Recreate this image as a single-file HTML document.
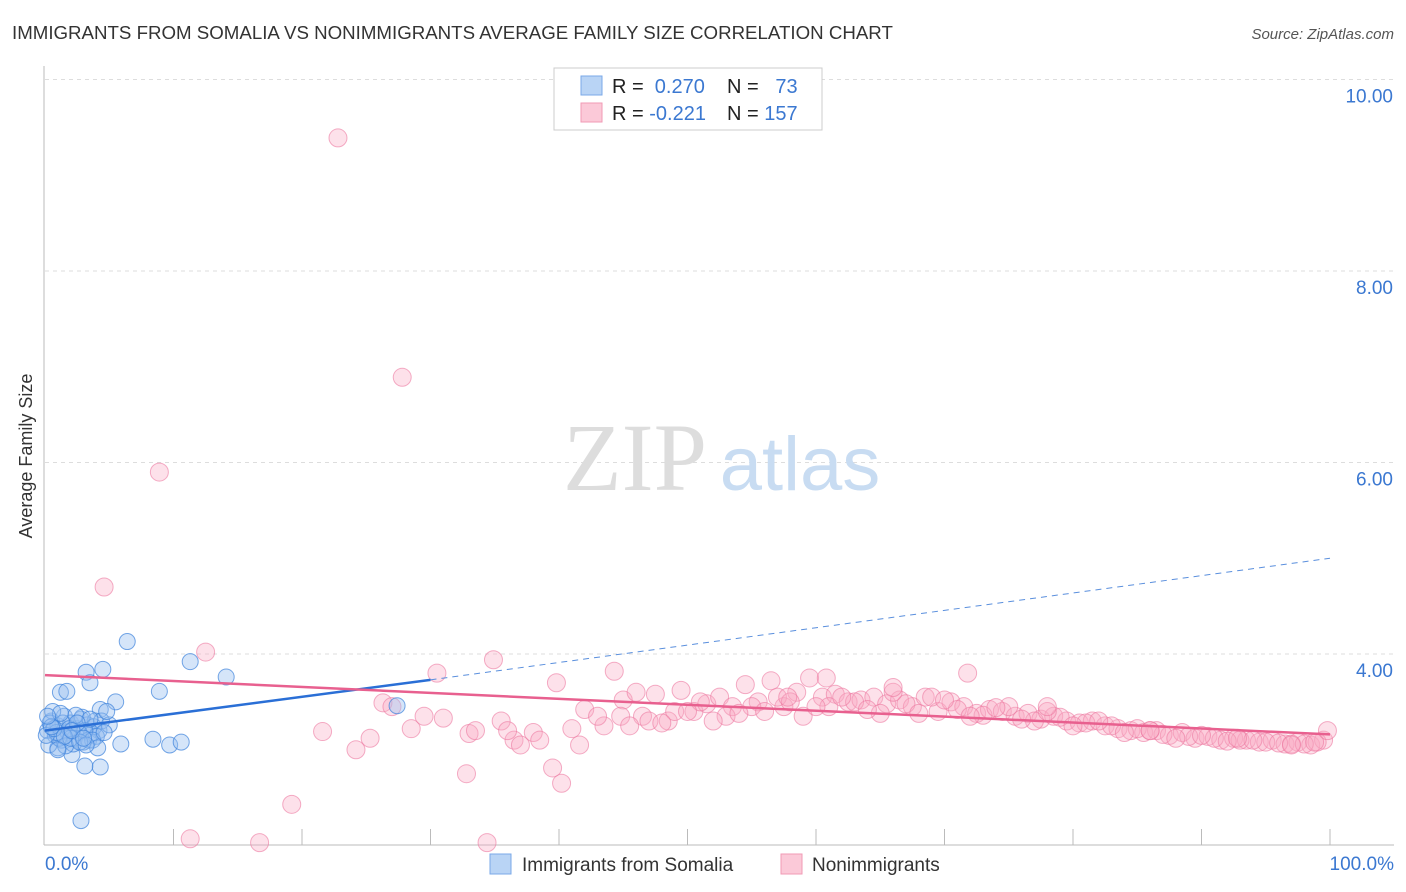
<!DOCTYPE html>
<html><head><meta charset="utf-8"><style>
body{margin:0;background:#fff;font-family:"Liberation Sans",sans-serif}
svg{display:block}
</style></head><body>
<svg id="c" width="1406" height="892" xmlns="http://www.w3.org/2000/svg">
<text x="12" y="39" font-size="18.7" fill="#333">IMMIGRANTS FROM SOMALIA VS NONIMMIGRANTS AVERAGE FAMILY SIZE CORRELATION CHART</text>
<text x="1394" y="39" font-size="15" fill="#555" font-style="italic" text-anchor="end">Source: ZipAtlas.com</text>
<text x="32" y="456" font-size="18" fill="#333" text-anchor="middle" transform="rotate(-90 32 456)">Average Family Size</text>
<g id="grid"></g>
<g id="wm">
<text x="635" y="490" font-size="96" fill="#ddd" font-family="Liberation Serif" text-anchor="middle">ZIP</text>
<text x="800" y="490" font-size="76" fill="#c8dcf2" text-anchor="middle">atlas</text></g>
<g id="axes"></g>
<g id="pts"></g>
<g id="lines"></g>
<g>
<rect x="554" y="68" width="268" height="62" fill="#fff" stroke="#ccc"/>
<rect x="581" y="76" width="21" height="19" fill="#b9d4f5" stroke="#7aa8e8"/>
<rect x="581" y="103" width="21" height="19" fill="#fbc9d8" stroke="#f09ab5"/>
<text x="612" y="93" font-size="20" fill="#222">R = <tspan fill="#3b78d1">&#160;0.270</tspan></text>
<text x="727" y="93" font-size="20" fill="#222">N = <tspan fill="#3b78d1">&#160;&#160;73</tspan></text>
<text x="612" y="120" font-size="20" fill="#222">R = <tspan fill="#3b78d1">-0.221</tspan></text>
<text x="727" y="120" font-size="20" fill="#222">N = <tspan fill="#3b78d1">157</tspan></text>
</g>
<g>
<rect x="490" y="854" width="21" height="20" fill="#b9d4f5" stroke="#7aa8e8"/>
<text x="522" y="871" font-size="19" fill="#333">Immigrants from Somalia</text>
<rect x="781" y="854" width="21" height="20" fill="#fbc9d8" stroke="#f09ab5"/>
<text x="812" y="871" font-size="19" fill="#333">Nonimmigrants</text>
</g>
</svg>
<script>
const yTicks=[4,6,8,10];
const yTickLabels=["4.00","6.00","8.00","10.00"];
const xTickLabels=["0.0%","100.0%"];
const blueX=[6.4,11.3,4.5,3.2,3.5,14.1,8.9,1.2,1.7,5.5,27.4,4.3,8.4,9.7,10.6,5.9,4.3,3.1,2.1,2.8,1.0,0.2,0.5,0.8,1.0,1.3,1.5,1.8,2.0,2.3,2.5,2.8,3.0,3.3,3.6,3.9,4.2,0.3,0.6,1.1,1.4,1.9,2.2,2.6,2.9,3.4,3.8,4.0,0.4,0.9,1.6,2.4,3.1,3.7,4.4,5.0,0.1,0.7,1.2,2.0,2.7,3.5,4.1,0.5,1.5,2.5,3.2,4.6,0.2,1.0,2.1,3.0,4.8];
const blueY=[4.13,3.92,3.84,3.81,3.70,3.76,3.61,3.60,3.61,3.50,3.46,3.42,3.11,3.05,3.08,3.06,2.82,2.83,2.95,2.26,3.02,3.20,3.30,3.15,3.25,3.10,3.35,3.18,3.28,3.12,3.22,3.32,3.08,3.26,3.16,3.30,3.20,3.05,3.40,3.12,3.28,3.22,3.06,3.18,3.34,3.10,3.24,3.14,3.28,3.18,3.04,3.36,3.20,3.10,3.30,3.26,3.15,3.22,3.38,3.12,3.08,3.32,3.02,3.24,3.14,3.28,3.05,3.18,3.35,3.00,3.20,3.12,3.40];
const pinkX=[22.8,27.8,8.9,4.6,12.5,30.5,34.9,21.6,19.2,11.3,16.7,34.4,24.2,25.3,26.3,27.0,32.8,40.2,39.5,41.6,39.8,44.3,28.5,29.5,31.0,33.0,35.5,36.5,38.0,37.0,42.0,43.5,45.0,46.5,47.5,48.5,49.5,50.5,51.5,52.5,53.5,54.5,55.5,56.5,57.5,58.5,59.5,60.5,61.5,62.5,63.5,64.5,65.5,66.5,67.5,68.5,69.5,70.5,71.5,72.5,73.5,74.5,75.5,76.5,77.5,78.5,79.5,80.5,81.5,82.5,83.5,84.5,85.5,86.5,87.5,88.5,89.5,90.5,91.5,92.5,93.5,94.5,95.5,96.5,97.5,98.5,99.5,44.8,46.0,47.0,49.0,51.0,53.0,55.0,57.0,59.0,61.0,63.0,65.0,67.0,69.0,71.0,73.0,75.0,77.0,79.0,81.0,83.0,85.0,87.0,89.0,91.0,93.0,95.0,97.0,99.0,48.0,52.0,56.0,60.0,64.0,68.0,72.0,76.0,80.0,84.0,88.0,92.0,96.0,98.0,54.0,58.0,62.0,66.0,70.0,74.0,78.0,82.0,86.0,90.0,94.0,97.0,33.5,36.0,38.5,41.0,43.0,45.5,50.0,57.8,60.8,66.0,71.8,78.0,86.0,92.8,98.8,99.8];
const pinkY=[9.39,6.89,5.90,4.70,4.02,3.80,3.94,3.19,2.43,2.07,2.03,2.03,3.00,3.12,3.49,3.45,2.75,2.65,2.81,3.05,3.70,3.82,3.22,3.35,3.33,3.17,3.30,3.10,3.18,3.05,3.42,3.25,3.52,3.35,3.58,3.30,3.62,3.40,3.48,3.55,3.45,3.68,3.50,3.72,3.45,3.60,3.75,3.55,3.58,3.50,3.52,3.55,3.48,3.52,3.45,3.55,3.40,3.50,3.45,3.38,3.42,3.40,3.35,3.38,3.32,3.35,3.30,3.28,3.30,3.25,3.22,3.20,3.18,3.20,3.15,3.18,3.12,3.14,3.10,3.12,3.10,3.08,3.10,3.06,3.08,3.05,3.10,3.35,3.60,3.30,3.40,3.50,3.35,3.45,3.55,3.35,3.45,3.50,3.38,3.48,3.55,3.42,3.36,3.45,3.30,3.34,3.28,3.25,3.22,3.16,3.14,3.12,3.10,3.08,3.06,3.08,3.28,3.30,3.40,3.45,3.42,3.38,3.35,3.32,3.25,3.18,3.12,3.09,3.07,3.06,3.38,3.50,3.55,3.60,3.52,3.44,3.40,3.30,3.20,3.15,3.10,3.05,3.20,3.20,3.10,3.22,3.35,3.25,3.40,3.55,3.75,3.65,3.80,3.45,3.20,3.12,3.08,3.20];
const blueTrend=[3.20,3.73,5.00];
const pinkTrend=[3.78,3.16];
const NS="http://www.w3.org/2000/svg";
const X=p=>45+p*12.85, Y=v=>654-(v-4)*95.75;
function mk(t,a,parent){const e=document.createElementNS(NS,t);for(const k in a)e.setAttribute(k,a[k]);parent.appendChild(e);return e;}
const grid=document.getElementById('grid'),axes=document.getElementById('axes'),pts=document.getElementById('pts'),lines=document.getElementById('lines');
yTicks.forEach((v,i)=>{
 const g=mk('line',{x1:45,x2:1394,y1:Y(v),y2:Y(v),stroke:'#ddd','stroke-dasharray':'4 4'},grid);
 
 
 const t=mk('text',{x:1393,y:Y(v)+23,'font-size':19,fill:'#3b78d1','text-anchor':'end'},axes);
 t.textContent=yTickLabels[i];
 
 
});
mk('line',{x1:44,x2:44,y1:66,y2:845,stroke:'#bbb'},axes);
mk('line',{x1:44,x2:1394,y1:845,y2:845,stroke:'#bbb'},axes);
for(let i=1;i<=10;i++){const l=mk('line',{x1:X(i*10),x2:X(i*10),y1:829,y2:845,stroke:'#bbb'},axes);
 
 }
[[0,"start",45],[100,"end",1394]].forEach((d,i)=>{const t=mk('text',{x:d[2],y:870,'font-size':19,fill:'#3b78d1','text-anchor':d[1]},axes);t.textContent=xTickLabels[i];
 
 });
pinkX.forEach((x,i)=>{const c=mk('circle',{cx:X(x),cy:Y(pinkY[i]),r:9,fill:'rgba(248,170,195,0.35)',stroke:'rgba(236,120,160,0.6)','stroke-width':1},pts);
 
 });
blueX.forEach((x,i)=>{const c=mk('circle',{cx:X(x),cy:Y(blueY[i]),r:8,fill:'rgba(150,190,240,0.4)',stroke:'rgba(60,130,220,0.7)','stroke-width':1},pts);
 
 });
const bl=mk('line',{x1:X(0),y1:Y(blueTrend[0]),x2:X(30),y2:Y(blueTrend[1]),stroke:'#2a6fd6','stroke-width':2.5},lines);


const bd=mk('line',{x1:X(30),y1:Y(blueTrend[1]),x2:X(100),y2:Y(blueTrend[2]),stroke:'#5a8fdd','stroke-width':1,'stroke-dasharray':'6 5'},lines);


const pl=mk('line',{x1:X(0),y1:Y(pinkTrend[0]),x2:X(100),y2:Y(pinkTrend[1]),stroke:'#e8608f','stroke-width':2.5},lines);


</script>
</body></html>
